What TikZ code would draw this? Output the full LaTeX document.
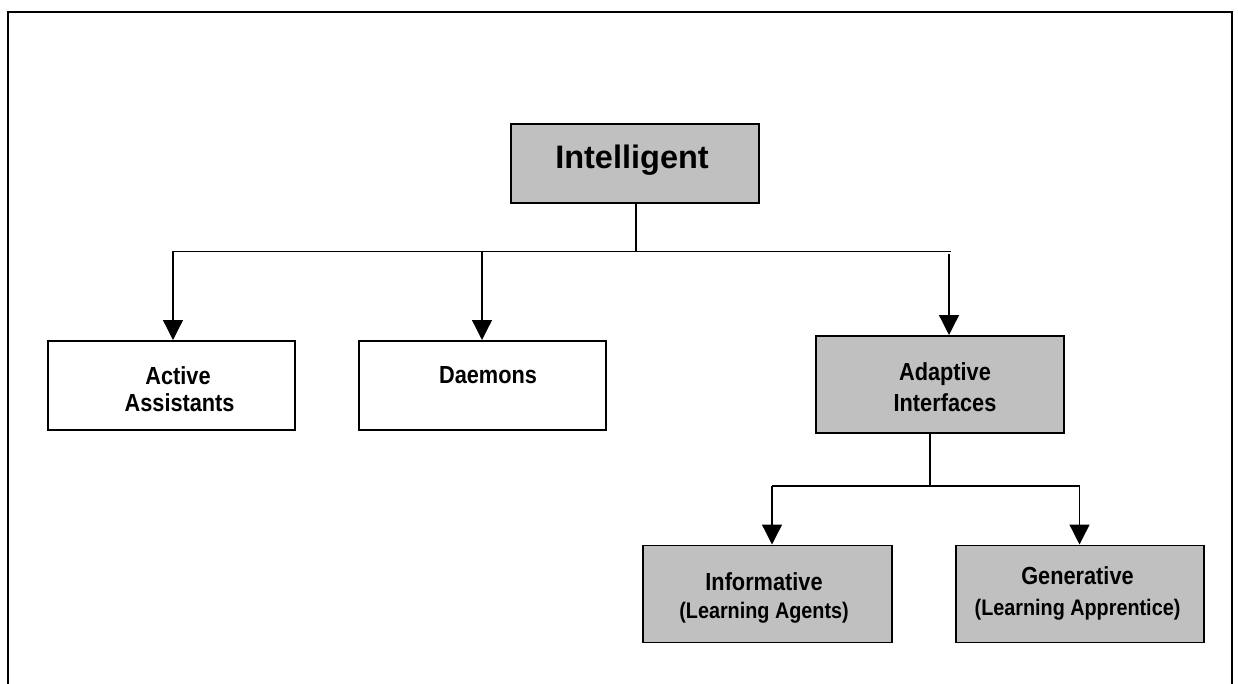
\documentclass[tikz,border=0pt]{standalone}
\usepackage{fontspec}
\setmainfont{Liberation Sans}
\newfontfamily\narrowsans{Liberation Sans}[FakeStretch=0.88]
\usetikzlibrary{arrows.meta,calc}
\definecolor{boxgray}{HTML}{C0C0C0}
\begin{document}
\begin{tikzpicture}[x=1pt,y=-1pt,
  box/.style={draw=black,line width=1.7pt,rectangle,inner sep=0pt,anchor=north west},
  graybox/.style={box,fill=boxgray},
  whitebox/.style={box,fill=white},
  lbl/.style={inner sep=0pt,anchor=base,align=center,font=\narrowsans\bfseries\fontsize{24.7}{28}\selectfont},
  sub/.style={font=\narrowsans\bfseries\fontsize{22.5}{26}\selectfont},
  link/.style={line width=1.3pt},
  arr/.style={link,-{Triangle[width=20pt,length=20pt]}}]
\useasboundingbox (0,0) rectangle (1238,684);
% page frame, open at the bottom
\draw[line width=2pt] (7.5,684) -- (7.5,12) -- (1232,12) -- (1232,684);

% boxes
\node[graybox,minimum width=248pt,minimum height=79pt] (intel) at (510,123) {};
\node[whitebox,minimum width=247pt,minimum height=89pt] (aa) at (47,340) {};
\node[whitebox,minimum width=247pt,minimum height=89pt] (dm) at (358,340) {};
\node[graybox,minimum width=248pt,minimum height=97pt] (ai) at (815,335) {};
\node[graybox,minimum width=249pt,minimum height=97pt] (inf) at (642,544.5) {};
\node[graybox,minimum width=248pt,minimum height=97pt] (gen) at (955,544.5) {};

% labels
\node[inner sep=0pt,anchor=base,font=\bfseries\fontsize{32.5}{36}\selectfont] (tintel) at (632,169) {Intelligent};
\node[lbl] (taa1) at (178,384.7) {Active};
\node[lbl] (taa2) at (179.6,411) {Assistants};
\node[lbl] (tdm) at (488,383.5) {Daemons};
\node[lbl] (tai1) at (945,380) {Adaptive};
\node[lbl] (tai2) at (945,411) {Interfaces};
\node[lbl] (tinf1) at (764,590) {Informative};
\node[lbl,sub] (tinf2) at (764,618) {(Learning Agents)};
\node[lbl] (tgen1) at (1077.5,584.5) {Generative};
\node[lbl,sub] (tgen2) at (1077.5,615.5) {(Learning Apprentice)};

% first level bus
\coordinate (j1) at (636,251.5);
\coordinate (bL) at (173,251.5);
\coordinate (bD) at (482,251.5);
\coordinate (bR) at (951,251.5);
\coordinate (bA) at (949,254);
\draw[link] (j1 |- intel.south) -- (j1);
\draw[link] (bL) -- (bR);
\draw[arr] (bL) -- (bL |- aa.north);
\draw[arr] (bD) -- (bD |- dm.north);
\draw[arr] (bA) -- (bA |- ai.north);

% second level bus
\coordinate (j2) at (930,486);
\coordinate (cL) at (772,486);
\coordinate (cR) at (1079.5,486);
\draw[link] (j2 |- ai.south) -- (j2);
\draw[link] (cL) -- (cR);
\draw[arr] (cL) -- (cL |- inf.north);
\draw[arr] (cR) -- (cR |- gen.north);
\end{tikzpicture}
\end{document}
